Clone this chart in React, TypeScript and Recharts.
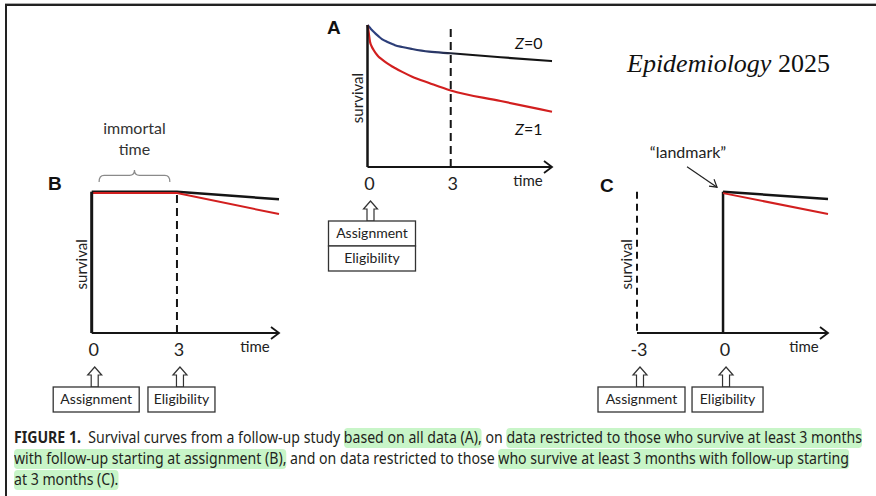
import React, { useLayoutEffect, useRef, useState } from "react";
import { LineChart, Line, XAxis, YAxis, ReferenceLine, ReferenceDot, ReferenceArea, Label } from "recharts";

const FONT = "Lato, 'Open Sans', sans-serif";
const INK = "#151515";
const RED = "#d21f1f";

// Panel A: all data
const timeA = [0, 0.03, 0.09, 0.16, 0.22, 0.34, 0.4, 0.52, 0.7, 0.89, 0.99, 1.25, 1.61, 2.22, 3, 4.8, 6.65];
const z0A = [1.0, 0.993, 0.98, 0.965, 0.953, 0.93, 0.92, 0.901, 0.882, 0.866, 0.858, 0.845, 0.831, 0.812, 0.801, 0.773, 0.746];
const z1A = [1.0, 0.965, 0.882, 0.845, 0.824, 0.79, 0.777, 0.758, 0.732, 0.708, 0.697, 0.67, 0.636, 0.592, 0.539, 0.465, 0.389];
const ticksA = [0, 3];
const endA = 6.65;

// Panel B: follow-up from assignment
const timeB = [0, 3, 6.59];
const blackB = [1.0, 1.0, 0.946];
const redB = [0.99, 0.99, 0.842];
const ticksB = [0, 3];
const endB = 6.59;

// Panel C: landmark at 3 months
const timeC = [0, 3.66];
const blackC = [1.0, 0.948];
const redC = [0.99, 0.842];
const ticksC = [-3, 0];
const startC = -3;
const endC = 3.66;

const boxesA: Record<string, string[]> = { "0": ["Assignment", "Eligibility"] };
const boxesB: Record<string, string[]> = { "0": ["Assignment"], "3": ["Eligibility"] };
const boxesC: Record<string, string[]> = { "-3": ["Assignment"], "0": ["Eligibility"] };

const captionLines = [
  [
    { text: "FIGURE 1.", bold: true },
    { text: "  Survival curves from a follow-up study " },
    { text: "based on all data (A),", hl: true },
    { text: " on " },
    { text: "data restricted to those who survive at least 3 months", hl: true },
  ],
  [
    { text: "with follow-up starting at assignment (B),", hl: true },
    { text: " and on data restricted to those " },
    { text: "who survive at least 3 months with follow-up starting", hl: true },
  ],
  [{ text: "at 3 months (C).", hl: true }],
];

const dataA = timeA.map((t, i) => ({ t, z0: z0A[i], z1: z1A[i] }));
const dataB = timeB.map((t, i) => ({ t, black: blackB[i], red: redB[i] }));
const dataC = timeC.map((t, i) => ({ t, black: blackC[i], red: redC[i] }));

function makeTick(boxes: Record<string, string[]>, widths: Record<string, number>) {
  return (props: any) => {
    const { x, y, payload } = props;
    const labels = boxes[String(payload.value)] || [];
    const cx = x + 3;
    const top = y + 34;
    return (
      <g>
        <text x={x + 2} y={y + 23} textAnchor="middle" fontSize={18} fontFamily={FONT} fill="#222">
          {payload.value}
        </text>
        {labels.length > 0 && (
          <polygon
            points={`${cx},${top} ${cx + 7},${top + 8} ${cx + 3.5},${top + 8} ${cx + 3.5},${top + 20} ${cx - 3.5},${top + 20} ${cx - 3.5},${top + 8} ${cx - 7},${top + 8}`}
            fill="#fff"
            stroke="#333"
            strokeWidth={1.2}
          />
        )}
        {labels.map((l, i) => {
          const w = widths[l];
          const bx = x + 4.5;
          const by = y + 54 + i * 25;
          return (
            <g key={l}>
              <rect x={bx - w / 2} y={by} width={w} height={25} fill="#fff" stroke="#333" strokeWidth={1.3} />
              <text x={bx} y={by + 17} textAnchor="middle" fontSize={14} fontFamily={FONT} fill="#222">
                {l}
              </text>
            </g>
          );
        })}
      </g>
    );
  };
}

const survivalLabel = (p: any) => {
  const vb = p.viewBox || {};
  const x = (vb.x ?? 0) + (vb.width ?? 0) - 5;
  const y = (vb.y ?? 0) + (vb.height ?? 0) / 2 + 2;
  return (
    <text x={x} y={y} transform={`rotate(-90 ${x} ${y})`} textAnchor="middle" fontSize={15} fontFamily={FONT} fill="#222">
      survival
    </text>
  );
};

const timeLabel = (p: any) => {
  const vb = p.viewBox;
  return (
    <text x={vb.x + vb.width - 24} y={vb.y + 19} textAnchor="middle" fontSize={15} fontFamily={FONT} fill="#222">
      time
    </text>
  );
};

const arrowHead = (p: any) => (
  <path d={`M${p.cx - 8},${p.cy - 6} L${p.cx},${p.cy} L${p.cx - 8},${p.cy + 6}`} fill="none" stroke={INK} strokeWidth={1.8} />
);

const brace = (p: any) => {
  const { x, y, width: w, height: h } = p;
  const cx = x + w / 2;
  const m = y + h * 0.45;
  return (
    <g>
      <path
        d={`M${x},${y + h} Q${x},${m} ${x + 5},${m} L${cx - 5},${m} Q${cx},${m} ${cx},${y} Q${cx},${m} ${cx + 5},${m} L${x + w - 5},${m} Q${x + w},${m} ${x + w},${y + h}`}
        fill="none"
        stroke="#8a8a8a"
        strokeWidth={1.2}
      />
      <text x={cx} y={y - 36} textAnchor="middle" fontSize={16} fontFamily={FONT} fill="#333">immortal</text>
      <text x={cx} y={y - 15} textAnchor="middle" fontSize={16} fontFamily={FONT} fill="#333">time</text>
    </g>
  );
};

const landmark = (p: any) => {
  const tx = p.cx - 6;
  const ty = p.cy - 4.5;
  const sx = p.cx - 36;
  const sy = p.cy - 25;
  return (
    <g>
      <line x1={sx} y1={sy} x2={tx} y2={ty} stroke="#222" strokeWidth={1.2} />
      <path d={`M${tx - 8},${ty - 1} L${tx},${ty} L${tx - 3},${ty - 8}`} fill="none" stroke="#222" strokeWidth={1.2} />
      <text x={p.cx - 35} y={p.cy - 33.5} textAnchor="middle" fontSize={16} fontFamily={FONT} fill="#222">
        “landmark”
      </text>
    </g>
  );
};

function PanelA() {
  return (
    <LineChart width={270} height={280} data={dataA} margin={{ top: 25, right: 18, left: 57.5, bottom: 0 }}>
      <defs>
        <linearGradient id="z0grad" x1="0" y1="0" x2="1" y2="0">
          <stop offset="0%" stopColor="#2e4282" />
          <stop offset="38%" stopColor="#2a3766" />
          <stop offset="52%" stopColor="#141414" />
        </linearGradient>
      </defs>
      <XAxis type="number" dataKey="t" domain={[0, endA]} ticks={ticksA} height={113} tickSize={0} tickMargin={0}
        tickLine={false} axisLine={{ stroke: INK, strokeWidth: 2 }} tick={makeTick(boxesA, { Assignment: 87, Eligibility: 87 })}>
        <Label content={timeLabel} />
      </XAxis>
      <YAxis type="number" domain={[0, 1]} width={10} tick={false} tickLine={false} axisLine={{ stroke: INK, strokeWidth: 2.5 }}>
        <Label content={survivalLabel} />
      </YAxis>
      <ReferenceLine x={3} stroke={INK} strokeWidth={2} strokeDasharray="8 5" />
      <Line type="monotone" dataKey="z0" stroke="url(#z0grad)" strokeWidth={2.2} dot={false} isAnimationActive={false} />
      <Line type="monotone" dataKey="z1" stroke={RED} strokeWidth={2.2} dot={false} isAnimationActive={false} />
      <ReferenceDot x={endA} y={0} r={0} ifOverflow="visible" shape={arrowHead} />
    </LineChart>
  );
}

function PanelB() {
  return (
    <LineChart width={260} height={310} data={dataB} margin={{ top: 81.7, right: 11, left: 51.7, bottom: 0 }}>
      <XAxis type="number" dataKey="t" domain={[0, endB]} ticks={ticksB} height={87} tickSize={0} tickMargin={0}
        tickLine={false} axisLine={{ stroke: INK, strokeWidth: 2 }} tick={makeTick(boxesB, { Assignment: 86, Eligibility: 67 })}>
        <Label content={timeLabel} />
      </XAxis>
      <YAxis type="number" domain={[0, 1]} width={10} tick={false} tickLine={false} axisLine={{ stroke: INK, strokeWidth: 3 }}>
        <Label content={survivalLabel} />
      </YAxis>
      <ReferenceLine x={3} stroke={INK} strokeWidth={2} strokeDasharray="8 5" />
      <ReferenceArea x1={0.26} x2={2.75} y1={1.069} y2={1.153} ifOverflow="visible" shape={brace} />
      <Line type="linear" dataKey="black" stroke={INK} strokeWidth={2.5} dot={false} isAnimationActive={false} />
      <Line type="linear" dataKey="red" stroke={RED} strokeWidth={2} dot={false} isAnimationActive={false} />
      <ReferenceDot x={endB} y={0} r={0} ifOverflow="visible" shape={arrowHead} />
    </LineChart>
  );
}

function PanelC() {
  return (
    <LineChart width={270} height={280} data={dataC} margin={{ top: 51.7, right: 22, left: 47, bottom: 0 }}>
      <XAxis type="number" dataKey="t" domain={[startC, endC]} ticks={ticksC} height={87} tickSize={0} tickMargin={0}
        tickLine={false} axisLine={{ stroke: INK, strokeWidth: 2 }} tick={makeTick(boxesC, { Assignment: 87, Eligibility: 71 })}>
        <Label content={timeLabel} />
      </XAxis>
      <YAxis type="number" domain={[0, 1]} width={10} tick={false} tickLine={false}
        axisLine={{ stroke: INK, strokeWidth: 2, strokeDasharray: "7 5" }}>
        <Label content={survivalLabel} />
      </YAxis>
      <ReferenceLine segment={[{ x: 0, y: 0 }, { x: 0, y: 1 }]} stroke={INK} strokeWidth={2.5} />
      <Line type="linear" dataKey="black" stroke={INK} strokeWidth={2.5} dot={false} isAnimationActive={false} />
      <Line type="linear" dataKey="red" stroke={RED} strokeWidth={2} dot={false} isAnimationActive={false} />
      <ReferenceDot x={0} y={1} r={0} ifOverflow="visible" shape={landmark} />
      <ReferenceDot x={endC} y={0} r={0} ifOverflow="visible" shape={arrowHead} />
    </LineChart>
  );
}

function Caption() {
  const ref = useRef<HTMLSpanElement>(null);
  const [scale, setScale] = useState(1);
  useLayoutEffect(() => {
    if (ref.current) {
      const w = ref.current.offsetWidth;
      if (w > 0) setScale(848 / w);
    }
  }, []);
  return (
    <div
      style={{
        position: "absolute",
        left: 14,
        top: 428,
        width: 2000,
        transform: `scaleX(${scale})`,
        transformOrigin: "0 0",
        fontFamily: "'Liberation Sans Narrow', 'Noto Sans', sans-serif",
        fontSize: 15.4,
        color: "#231f20",
      }}
    >
      {captionLines.map((line, li) => (
        <div key={li} style={{ height: 21, lineHeight: "21px", whiteSpace: "pre", overflow: "hidden" }}>
          <span ref={li === 0 ? ref : undefined} style={{ display: "inline-block", whiteSpace: "pre", verticalAlign: "top" }}>
            {line.map((seg: any, si) => (
              <span
                key={si}
                style={{
                  fontWeight: seg.bold ? 700 : 400,
                  background: seg.hl ? "#c8f5c8" : "transparent",
                  borderRadius: 4,
                  display: "inline-block",
                  verticalAlign: "top",
                  height: 20,
                  lineHeight: "20px",
                }}
              >
                {seg.text}
              </span>
            ))}
          </span>
        </div>
      ))}
    </div>
  );
}

export default function App() {
  return (
    <div style={{ position: "fixed", left: 0, top: 0, width: 876, height: 496, background: "#fff", overflow: "hidden" }}>
      <div style={{ position: "absolute", left: 5, top: 3, width: 880, height: 1, background: "#aaa" }} />
      <div style={{ position: "absolute", left: 5, top: 4, width: 880, height: 500, borderTop: "2px solid #222", borderLeft: "2px solid #222" }} />
      <div style={{ position: "absolute", left: 300, top: 0 }}>
        <PanelA />
      </div>
      <div style={{ position: "absolute", left: 30, top: 110 }}>
        <PanelB />
      </div>
      <div style={{ position: "absolute", left: 580, top: 140 }}>
        <PanelC />
      </div>
      <svg width={876} height={496} style={{ position: "absolute", left: 0, top: 0, pointerEvents: "none" }}>
        <g fontFamily="'Liberation Sans', Arial, sans-serif" fontWeight={700} fontSize={19} fill="#111">
          <text x={327} y={34}>A</text>
          <text x={48} y={190}>B</text>
          <text x={600} y={192}>C</text>
        </g>
        <g fontFamily={FONT} fontSize={16} fill="#111">
          <text x={515} y={49}><tspan fontStyle="italic">Z</tspan>=0</text>
          <text x={515} y={135}><tspan fontStyle="italic">Z</tspan>=1</text>
        </g>
        <text x={627} y={72} fontFamily="'Liberation Serif', 'Times New Roman', serif" fontSize={26} fill="#111">
          <tspan fontStyle="italic">Epidemiology</tspan> 2025
        </text>
      </svg>
      <Caption />
    </div>
  );
}
